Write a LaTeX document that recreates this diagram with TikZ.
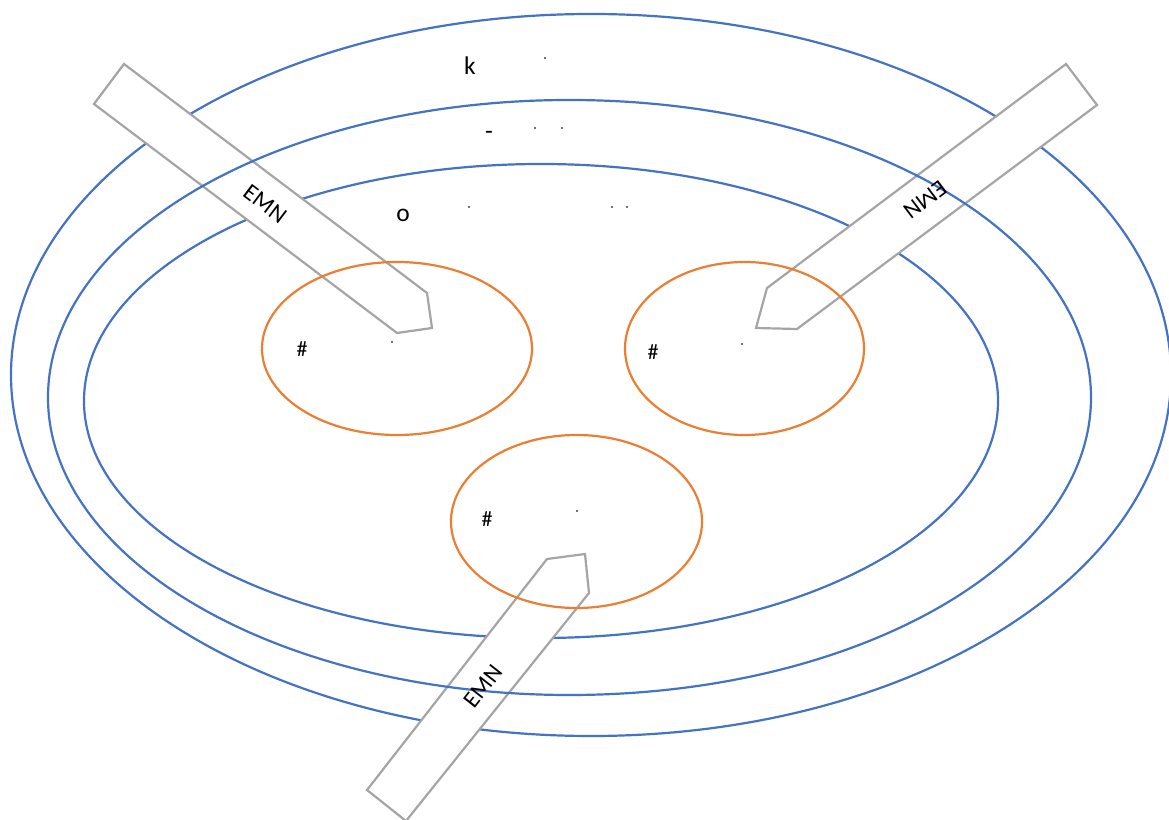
\documentclass[tikz,border=0pt]{standalone}
\usepackage{fontspec}
\setmainfont{Carlito}
\usepackage{xcolor}
\definecolor{ringblue}{RGB}{68,114,196}
\definecolor{budorange}{RGB}{237,125,49}
\definecolor{probegray}{RGB}{165,165,165}
\usepackage{tikz}
\usetikzlibrary{positioning}

\begin{document}
\begin{tikzpicture}[x=0.2mm, y=-0.2mm,
  ring/.style={draw=ringblue, line width=1.25pt},
  bud/.style={draw=budorange, line width=1.25pt},
  probe/.style={draw=probegray, line width=1.25pt, fill=white, line join=miter},
  probetext/.style={font=\fontsize{13.5}{15}\selectfont, inner sep=1pt},
  lbl/.style={font=\fontsize{14.5}{16}\selectfont, inner sep=1pt},
  hash/.style={font=\fontsize{12.5}{14}\selectfont, inner sep=1pt},
  dotmark/.style={circle, fill=black!75, inner sep=0pt, minimum size=1.4pt}]

\useasboundingbox (0,0) rectangle (1169,820);

% Outer and inner rings (below the probes)
\draw[ring] (591,375) ellipse [x radius=580, y radius=361];
\draw[ring] (541,401) ellipse [x radius=457, y radius=237];

% Probes
\draw[probe] (124,64) -- (427,293) -- (432,328) -- (397,333) -- (94,104) -- cycle;
\draw[probe] (1066,64) -- (1097,105) -- (797,329) -- (756,328) -- (767,288) -- cycle;
\draw[probe] (547,559) -- (585,554) -- (589,593) -- (406,821) -- (367,790) -- cycle;

% Middle ring and the three buds
\draw[ring] (569.5,397.5) ellipse [x radius=521.5, y radius=297.5];
\draw[bud] (397,348.5) ellipse [x radius=135, y radius=86.5];
\draw[bud] (744.5,348.5) ellipse [x radius=119.5, y radius=86.5];
\draw[bud] (576.5,521.5) ellipse [x radius=125.5, y radius=86.5];

% Probe labels
\node[probetext, rotate=-37] (pleft) at (265,204) {EMN};
\node[probetext, rotate=217] (pright) at (925,200) {EMN};
\node[probetext, rotate=52] (pbottom) at (483,686) {EMN};

% Ring labels
\node[lbl] (tk) at (470,66) {k};
\node[lbl] (tdash) at (489,135) {-};
\node[lbl] (to) at (403,215) {o};

% Bud labels
\node[hash] (h1) at (302,349) {\#};
\node[hash] (h2) at (653,352) {\#};
\node[hash] (h3) at (487,519) {\#};

% Small marks
\node[dotmark] (m1) at (545,58) {};
\node[dotmark] (m2) at (535,128) {};
\node[dotmark] (m3) at (562,128) {};
\node[dotmark] (m4) at (469,207) {};
\node[dotmark] (m5) at (612,207) {};
\node[dotmark] (m6) at (627,207) {};
\node[dotmark] (m7) at (392,342) {};
\node[dotmark] (m8) at (742,344) {};
\node[dotmark] (m9) at (577,511) {};

\end{tikzpicture}
\end{document}
